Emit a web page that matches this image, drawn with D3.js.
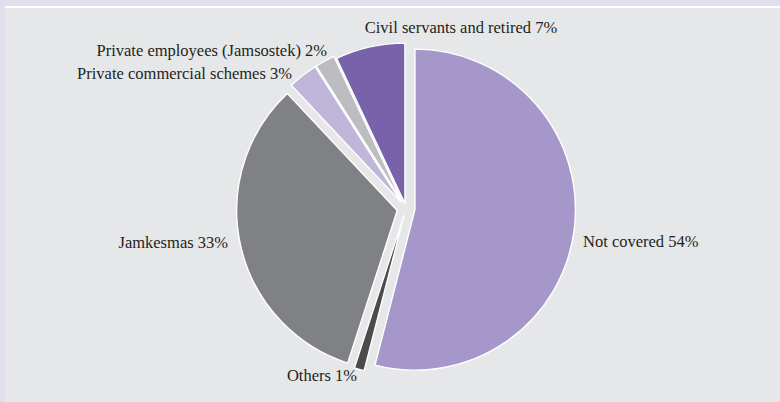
<!DOCTYPE html>
<html>
<head>
<meta charset="utf-8">
<script src="https://cdn.jsdelivr.net/npm/d3@7"></script>
<style>
  html, body { margin: 0; padding: 0; background: #e1dfee; }
  svg { display: block; }
</style>
</head>
<body>
<svg id="chart" width="780" height="402"></svg>
<script>
// Health coverage shares by scheme, clockwise from 12 o'clock
const categories = [
  "Not covered",
  "Others",
  "Jamkesmas",
  "Private commercial schemes",
  "Private employees (Jamsostek)",
  "Civil servants and retired"
];
const shares = [54, 1, 33, 3, 2, 7];

const sliceColors = ["#a597c9", "#4b4b4e", "#808184", "#bfb6da", "#bcbdc0", "#7862aa"];
// how far each slice is pulled out from the centre (px)
const explode = [9, 7, 9, 8, 8, 5];
// label anchor point (relative to the pie centre) and alignment
const labelLayout = [
  { x: 177,  y: 38.5,   anchor: "start" },
  { x: -49,  y: 172.5,  anchor: "end" },
  { x: -178, y: 39.5,   anchor: "end" },
  { x: -114, y: -129.5, anchor: "end" },
  { x: -79,  y: -152.5, anchor: "end" },
  { x: 55,   y: -175.5, anchor: "middle" }
];

const W = 780, H = 402;
const svg = d3.select("#chart");

// panel with a thin white rule along its top
svg.append("rect").attr("x", 5).attr("y", 6).attr("width", W - 5).attr("height", H - 6).attr("fill", "#ffffff");
svg.append("rect").attr("x", 5).attr("y", 8).attr("width", W - 5).attr("height", H - 8).attr("fill", "#e6e7e8");

const cx = 406, cy = 208.5, R = 160.5;

const pie = d3.pie().sort(null).value(d => d).startAngle(0).endAngle(2 * Math.PI);
const arcs = pie(shares);
const arc = d3.arc().innerRadius(0).outerRadius(R);

const g = svg.append("g").attr("transform", `translate(${cx},${cy})`);

const mid = d => (d.startAngle + d.endAngle) / 2;

g.selectAll("path.slice")
  .data(arcs)
  .join("path")
  .attr("class", "slice")
  .attr("d", arc)
  .attr("fill", (d, i) => sliceColors[i])
  .attr("stroke", "#ffffff")
  .attr("stroke-width", 1.4)
  .attr("stroke-linejoin", "miter")
  .attr("transform", (d, i) => {
    const a = mid(d), e = explode[i];
    return `translate(${Math.sin(a) * e},${-Math.cos(a) * e})`;
  });

// category labels with their share
const labelText = categories.map((c, i) => `${c} ${shares[i]}%`);

g.selectAll("text.lbl")
  .data(arcs)
  .join("text")
  .attr("class", "lbl")
  .attr("x", (d, i) => labelLayout[i].x)
  .attr("y", (d, i) => labelLayout[i].y)
  .attr("text-anchor", (d, i) => labelLayout[i].anchor)
  .attr("font-family", "'Liberation Serif', 'DejaVu Serif', serif")
  .attr("font-size", 16.5)
  .attr("fill", "#231f20")
  .text((d, i) => labelText[i]);
</script>
</body>
</html>
